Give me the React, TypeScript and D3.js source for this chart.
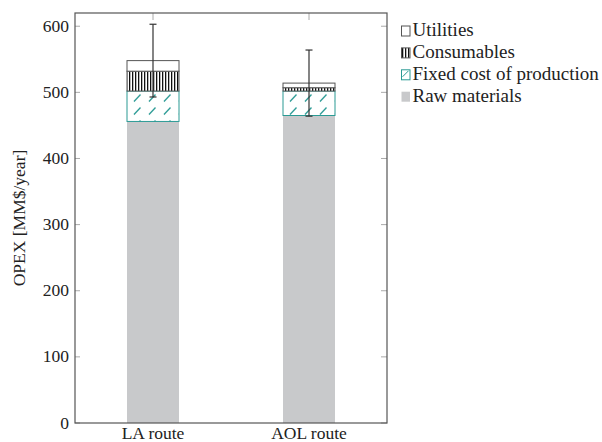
import * as d3 from "d3";

const categories = ["LA route", "AOL route"];
const rawMaterials = [456, 465];
const fixedCost = [46, 37];
const consumables = [30, 5];
const utilities = [16, 7];
const errors = [55, 50];
const yTicks = [0, 100, 200, 300, 400, 500, 600];

const seriesNames = ["Raw materials", "Fixed cost of production", "Consumables", "Utilities"];

const width = 602;
const height = 442;
const left = 75;
const right = 387;
const top = 13;
const bottom = 423;
const barWidth = 52;
const teal = "#2a9a94";
const frame = "#555";
const font = "'Liberation Serif', 'Times New Roman', serif";

function App() {
  const x = d3.scalePoint<string>().domain(categories).range([left, right]).padding(0.5);
  const y = d3.scaleLinear().domain([0, 620]).range([bottom, top]);

  const rows = categories.map((c, i) => ({
    cat: c,
    values: [rawMaterials[i], fixedCost[i], consumables[i], utilities[i]],
    err: errors[i],
  }));
  const stack = d3
    .stack<any>()
    .keys([0, 1, 2, 3].map(String))
    .value((d, k) => d.values[+k]);
  const layers = stack(rows);

  const fillFor = (li: number, i: number) =>
    li === 0 ? "#c8c9cb" : li === 1 ? `url(#hatch${i})` : li === 2 ? "url(#vlines)" : "#fff";
  const strokes = ["none", teal, frame, frame];

  // legend order top to bottom
  const legendOrder = [3, 2, 1, 0];

  return (
    <svg
      width={width}
      height={height}
      style={{ position: "absolute", left: 0, top: 0, background: "#fff" }}
      fontFamily={font}
    >
      <defs>
        {rows.map((r, i) => {
          const bx = x(r.cat)! - barWidth / 2;
          const by = y(r.values[0] + r.values[1]);
          return (
            <pattern key={i} id={`hatch${i}`} patternUnits="userSpaceOnUse" width={15} height={13} x={bx} y={by}>
              <rect width={15} height={13} fill="#fff" />
              <line x1={7} y1={10.5} x2={13.5} y2={3.5} stroke={teal} strokeWidth={1.3} />
            </pattern>
          );
        })}
        <pattern id="vlines" patternUnits="userSpaceOnUse" width={3} height={10} x={0} y={0}>
          <rect width={3} height={10} fill="#fff" />
          <rect x={0} width={1.3} height={10} fill="#111" />
        </pattern>
      </defs>

      {/* bars */}
      {layers.map((layer, li) => (
        <g key={li}>
          {layer.map((d, i) => {
            const cx = x(categories[i])!;
            return (
              <rect
                key={i}
                x={cx - barWidth / 2}
                y={y(d[1])}
                width={barWidth}
                height={y(d[0]) - y(d[1])}
                fill={fillFor(li, i)}
                stroke={strokes[li]}
                strokeWidth={1}
              />
            );
          })}
        </g>
      ))}

      {/* error bars */}
      {rows.map((r, i) => {
        const cx = x(r.cat)!;
        const total = d3.sum(r.values);
        return (
          <g key={i} stroke="#333" strokeWidth={1.2}>
            <line x1={cx} x2={cx} y1={y(total - r.err)} y2={y(total + r.err)} />
            <line x1={cx - 3.5} x2={cx + 3.5} y1={y(total + r.err)} y2={y(total + r.err)} />
            <line x1={cx - 3.5} x2={cx + 3.5} y1={y(total - r.err)} y2={y(total - r.err)} />
          </g>
        );
      })}

      {/* ticks */}
      {yTicks.map((t) => (
        <g key={t}>
          <line x1={left} x2={left + 5} y1={y(t)} y2={y(t)} stroke="#aaa" />
          <line x1={right - 6} x2={right} y1={y(t)} y2={y(t)} stroke="#aaa" />
          <text x={left - 6} y={y(t) + 5.5} textAnchor="end" fontSize={17.5} fill="#222">
            {t}
          </text>
        </g>
      ))}
      {categories.map((c) => (
        <g key={c}>
          <line x1={x(c)} x2={x(c)} y1={top} y2={top + 7} stroke="#aaa" />
          <text x={x(c)} y={bottom + 15.5} textAnchor="middle" fontSize={17.5} fill="#222">
            {c}
          </text>
        </g>
      ))}

      {/* frame */}
      <rect x={left} y={top} width={right - left} height={bottom - top} fill="none" stroke={frame} strokeWidth={1.2} />

      {/* y label */}
      <text
        transform={`translate(25,${(top + bottom) / 2}) rotate(-90)`}
        textAnchor="middle"
        fontSize={17.5}
        fill="#222"
      >
        OPEX [MM$/year]
      </text>

      {/* legend */}
      {legendOrder.map((si, k) => {
        const by = 36 + k * 21.9;
        return (
          <g key={si}>
            {si === 1 ? (
              <g>
                <rect x={401.5} y={by - 10} width={8.5} height={10} fill="#fff" stroke={teal} />
                <line x1={402.5} y1={by - 3} x2={408.5} y2={by - 9} stroke={teal} strokeWidth={1} />
              </g>
            ) : (
              <rect
                x={401.5}
                y={by - 10}
                width={8.5}
                height={10}
                fill={si === 2 ? "url(#vlines)" : si === 0 ? "#c8c9cb" : "#fff"}
                stroke={si === 0 ? "none" : frame}
              />
            )}
            <text x={412.5} y={by} fontSize={19} fill="#222">
              {seriesNames[si]}
            </text>
          </g>
        );
      })}
    </svg>
  );
}

export default App;
